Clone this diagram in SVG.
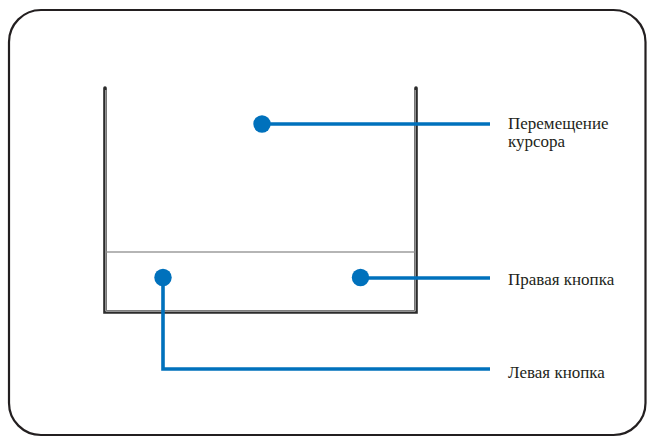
<svg xmlns="http://www.w3.org/2000/svg" width="647" height="437" viewBox="0 0 647 437">
<style>
.frame{fill:none;stroke:#231f20;stroke-width:2.2}
.pad{fill:none;stroke:#2b2b2b;stroke-width:3.6;stroke-linecap:round;stroke-linejoin:miter}
.padin{fill:none;stroke:#d0d0d0;stroke-width:0.9}
.sep{stroke:#9d9d9d;stroke-width:1.6}
.lead{fill:none;stroke:#0071bc;stroke-width:3.6}
.dot{fill:#0071bc}
.lbl{font-family:"Liberation Serif","DejaVu Serif",serif;font-size:17px;fill:#231f20}
</style>
<rect class="frame" x="9" y="10" width="636.5" height="425" rx="32" ry="32"/>
<g id="touchpad">
<path class="pad" d="M105 88 V312 H416 V88"/>
<path class="padin" d="M105.8 90 V311.2 H415.2 V90"/>
<line class="sep" x1="106.5" y1="252" x2="414.5" y2="252"/>
</g>
<g id="connectors">
<path class="lead" d="M262 124 H490"/>
<path class="lead" d="M360 278 H490"/>
<path class="lead" d="M163 277 V369 H490"/>
</g>
<g id="cursor">
<circle class="dot" cx="262" cy="124" r="8.7"/>
<text class="lbl" x="508" y="129">Перемещение</text>
<text class="lbl" x="508" y="147">курсора</text>
</g>
<g id="right-button">
<circle class="dot" cx="360.5" cy="277.5" r="8.7"/>
<text class="lbl" x="508" y="285">Правая кнопка</text>
</g>
<g id="left-button">
<circle class="dot" cx="163" cy="277.5" r="8.7"/>
<text class="lbl" x="508" y="378">Левая кнопка</text>
</g>
</svg>
